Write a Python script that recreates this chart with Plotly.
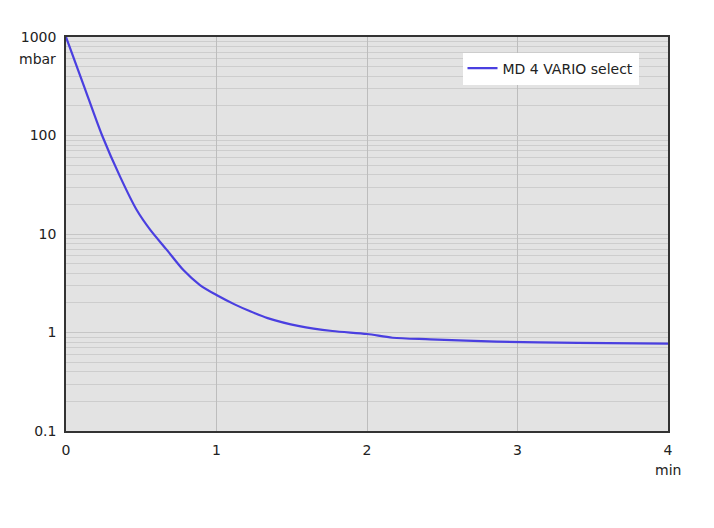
import plotly.graph_objects as go

time_min = [0, 0.12, 0.24, 0.36, 0.47, 0.56, 0.67, 0.78, 0.89, 1.0, 1.12, 1.22, 1.34, 1.55, 1.77, 2.0, 2.17, 2.42, 2.86, 3.4, 4.0]
pressure_mbar = [1000, 316, 100, 38, 17.5, 11.0, 6.9, 4.3, 3.03, 2.4, 1.93, 1.65, 1.40, 1.16, 1.035, 0.966, 0.885, 0.853, 0.807, 0.785, 0.77]
series_name = "MD 4 VARIO select"
y_tick_vals = [0.1, 1, 10, 100, 1000]
y_tick_text = ["0.1", "1", "10", "100", "1000"]
x_tick_vals = [0, 1, 2, 3, 4]

FONT = "DejaVu Sans"

fig = go.Figure()
fig.add_trace(go.Scatter(
    x=time_min, y=pressure_mbar, mode="lines", name=series_name,
    line=dict(color="#4a3fe0", width=2.2, shape="spline", smoothing=0.8),
))

fig.update_layout(
    width=714, height=528,
    margin=dict(l=58, r=54, t=29, b=105),
    paper_bgcolor="white",
    plot_bgcolor="#e3e3e3",
    font=dict(family=FONT, size=14, color="#222"),
    showlegend=True,
    legend=dict(
        x=0.951, y=0.92, xanchor="right", yanchor="middle",
        bgcolor="white", borderwidth=0,
        font=dict(family=FONT, size=14, color="#222"),
        itemwidth=30,
    ),
    xaxis=dict(
        range=[0, 4], tickvals=x_tick_vals,
        showgrid=True, gridcolor="#bdbdbd", gridwidth=1,
        showline=True, linecolor="#333", linewidth=1.5, mirror=True,
        ticks="", zeroline=False, ticklabelstandoff=5,
        tickfont=dict(family=FONT, size=14, color="#222"),
    ),
    yaxis=dict(
        type="log", range=[-1, 3],
        tickvals=y_tick_vals, ticktext=y_tick_text,
        showgrid=True, gridcolor="#c6c6c6", gridwidth=1,
        minor=dict(dtick="D1", showgrid=True, gridcolor="#cdcdcd", gridwidth=1),
        showline=True, linecolor="#333", linewidth=1.5, mirror=True,
        ticks="", zeroline=False, ticklabelstandoff=5,
        tickfont=dict(family=FONT, size=14, color="#222"),
    ),
)

fig.add_annotation(text="mbar", xref="paper", yref="paper", x=0, y=1,
                   xanchor="right", yanchor="top", xshift=-8, yshift=-12,
                   showarrow=False, font=dict(family=FONT, size=14, color="#222"))
fig.add_annotation(text="min", xref="paper", yref="paper", x=1, y=0,
                   xanchor="center", yanchor="top", yshift=-29,
                   showarrow=False, font=dict(family=FONT, size=14, color="#222"))

fig.write_html("out.html")
